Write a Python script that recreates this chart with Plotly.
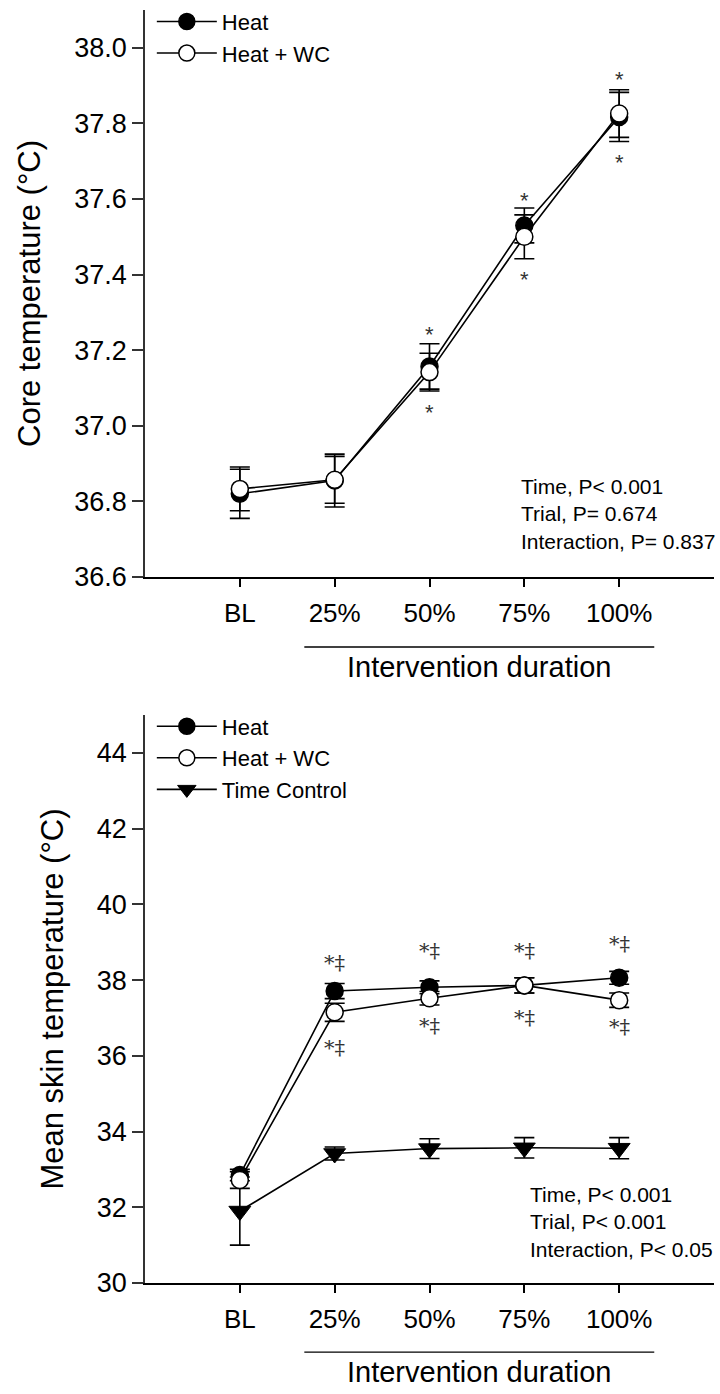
import plotly.graph_objects as go

# ---------------- data ----------------
categories = [0, 1, 2, 3, 4]
tick_labels = ["BL", "25%", "50%", "75%", "100%"]

# Core temperature (top panel)
heat_core = [36.82, 36.855, 37.157, 37.53, 37.817]
heat_core_err = [0.065, 0.07, 0.06, 0.046, 0.065]
wc_core = [36.833, 36.857, 37.142, 37.50, 37.826]
wc_core_err = [0.058, 0.062, 0.05, 0.058, 0.063]

# Mean skin temperature (bottom panel)
heat_skin = [32.85, 37.71, 37.81, 37.86, 38.06]
heat_skin_err = [0.15, 0.2, 0.17, 0.2, 0.17]
wc_skin = [32.72, 37.15, 37.52, 37.86, 37.47]
wc_skin_err = [0.22, 0.24, 0.18, 0.2, 0.19]
tc_skin = [31.9, 33.42, 33.55, 33.57, 33.56]
tc_skin_err = [0.9, 0.17, 0.26, 0.27, 0.28]

core_ticks = [36.6, 36.8, 37.0, 37.2, 37.4, 37.6, 37.8, 38.0]
skin_ticks = [30, 32, 34, 36, 38, 40, 42, 44]

# significance marks (x index, y value, text)
core_marks = [(2, 37.254, "*"), (2, 37.048, "*"), (3, 37.61, "*"), (3, 37.40, "*"),
              (4, 37.93, "*"), (4, 37.71, "*")]
skin_marks = [(1, 38.44, "*‡"), (1, 36.20, "*‡"), (2, 38.78, "*‡"), (2, 36.79, "*‡"),
              (3, 38.78, "*‡"), (3, 37.01, "*‡"), (4, 38.95, "*‡"), (4, 36.75, "*‡")]

core_stats = "Time, P< 0.001<br>Trial, P= 0.674<br>Interaction, P= 0.837"
skin_stats = "Time, P< 0.001<br>Trial, P< 0.001<br>Interaction, P< 0.05"

FONT = "Liberation Sans, Arial, sans-serif"

fig = go.Figure()


def err(arr):
    return dict(type="data", array=arr, visible=True, color="black", thickness=1.6, width=10)


fig.add_trace(go.Scatter(x=categories, y=heat_core, error_y=err(heat_core_err), mode="lines+markers",
                         name="Heat", xaxis="x", yaxis="y", legend="legend", legendrank=1,
                         line=dict(color="black", width=1.6),
                         marker=dict(symbol="circle", size=17, color="black", line=dict(color="black", width=1.5))))
fig.add_trace(go.Scatter(x=categories, y=wc_core, error_y=err(wc_core_err), mode="lines+markers",
                         name="Heat + WC", xaxis="x", yaxis="y", legend="legend", legendrank=2,
                         line=dict(color="black", width=1.6),
                         marker=dict(symbol="circle", size=17, color="white", line=dict(color="black", width=1.5))))

fig.add_trace(go.Scatter(x=categories, y=tc_skin, error_y=err(tc_skin_err), mode="lines+markers",
                         name="Time Control", xaxis="x2", yaxis="y2", legend="legend2", legendrank=3,
                         line=dict(color="black", width=1.6),
                         marker=dict(symbol="triangle-down", size=19, color="black", line=dict(color="black", width=1))))
fig.add_trace(go.Scatter(x=categories, y=heat_skin, error_y=err(heat_skin_err), mode="lines+markers",
                         name="Heat", xaxis="x2", yaxis="y2", legend="legend2", legendrank=1,
                         line=dict(color="black", width=1.6),
                         marker=dict(symbol="circle", size=17, color="black", line=dict(color="black", width=1.5))))
fig.add_trace(go.Scatter(x=categories, y=wc_skin, error_y=err(wc_skin_err), mode="lines+markers",
                         name="Heat + WC", xaxis="x2", yaxis="y2", legend="legend2", legendrank=2,
                         line=dict(color="black", width=1.6),
                         marker=dict(symbol="circle", size=17, color="white", line=dict(color="black", width=1.5))))

xcommon = dict(range=[-1, 5], tickmode="array", tickvals=categories, ticktext=tick_labels,
               showline=True, linecolor="black", linewidth=1.5, ticks="outside", ticklen=8,
               tickwidth=1.5, tickcolor="black", showgrid=False, zeroline=False,
               tickfont=dict(family=FONT, size=26, color="black"), ticklabelstandoff=4)
ycommon = dict(showline=True, linecolor="#333333", linewidth=1.5, ticks="outside", ticklen=11,
               tickwidth=1.5, tickcolor="#333333", showgrid=False, zeroline=False,
               tickfont=dict(family=FONT, size=27, color="black"))

# plot area spans pixel rows 0..1283 (margin b=111); panels at 10..577 and 715..1283
top_dom = [0.5503, 0.9922]
bot_dom = [0.0, 0.4427]

legend_common = dict(xanchor="left", yanchor="top", bgcolor="rgba(0,0,0,0)",
                     font=dict(family=FONT, size=22), itemwidth=60, tracegroupgap=0,
                     traceorder="normal")

fig.update_layout(
    width=720, height=1394,
    margin=dict(l=145, r=6, t=0, b=111),
    paper_bgcolor="white", plot_bgcolor="white",
    font=dict(family=FONT, color="black"),
    xaxis=dict(**xcommon, anchor="y", domain=[0, 1]),
    yaxis=dict(**ycommon, anchor="x", domain=top_dom, range=[36.6, 38.1], tickvals=core_ticks,
               tickformat=".1f",
               title=dict(text="Core temperature (°C)", font=dict(family=FONT, size=31), standoff=24)),
    xaxis2=dict(**xcommon, anchor="y2", domain=[0, 1]),
    yaxis2=dict(**ycommon, anchor="x2", domain=bot_dom, range=[30, 45], tickvals=skin_ticks,
                title=dict(text="Mean skin temperature (°C)", font=dict(family=FONT, size=31), standoff=24)),
    legend=dict(x=0.012, y=0.9995, **legend_common),
    legend2=dict(x=0.012, y=bot_dom[1] + 0.0075, **legend_common),
    showlegend=True,
)

annotations = []
for xi, yv, txt in core_marks:
    annotations.append(dict(x=xi, y=yv, xref="x", yref="y", text=txt, showarrow=False,
                            font=dict(family=FONT, size=22, color="#333333"), yshift=-5))
for xi, yv, txt in skin_marks:
    annotations.append(dict(x=xi, y=yv, xref="x2", yref="y2", text=txt, showarrow=False,
                            font=dict(family="DejaVu Serif", size=21, color="#333333")))

annotations.append(dict(x=2.94, y=36.767, xref="x", yref="y", text=core_stats, showarrow=False,
                        xanchor="left", yanchor="middle", align="left",
                        font=dict(family=FONT, size=21, color="black")))
annotations.append(dict(x=3.04, y=31.61, xref="x2", yref="y2", text=skin_stats, showarrow=False,
                        xanchor="left", yanchor="middle", align="left",
                        font=dict(family=FONT, size=21, color="black")))

# x-axis titles with underline
annotations.append(dict(x=2.52, y=0.4957, xref="x", yref="paper", text="Intervention duration",
                        showarrow=False, yanchor="top", yshift=-2,
                        font=dict(family=FONT, size=29, color="black")))
annotations.append(dict(x=2.52, y=-0.0538, xref="x2", yref="paper", text="Intervention duration",
                        showarrow=False, yanchor="top", yshift=-2,
                        font=dict(family=FONT, size=29, color="black")))
fig.update_layout(annotations=annotations)

fig.add_shape(type="line", xref="x", yref="paper", x0=0.68, x1=4.37, y0=0.4957, y1=0.4957,
              line=dict(color="black", width=1.3))
fig.add_shape(type="line", xref="x2", yref="paper", x0=0.68, x1=4.37, y0=-0.0538, y1=-0.0538,
              line=dict(color="black", width=1.3))

fig.write_html("out.html")
